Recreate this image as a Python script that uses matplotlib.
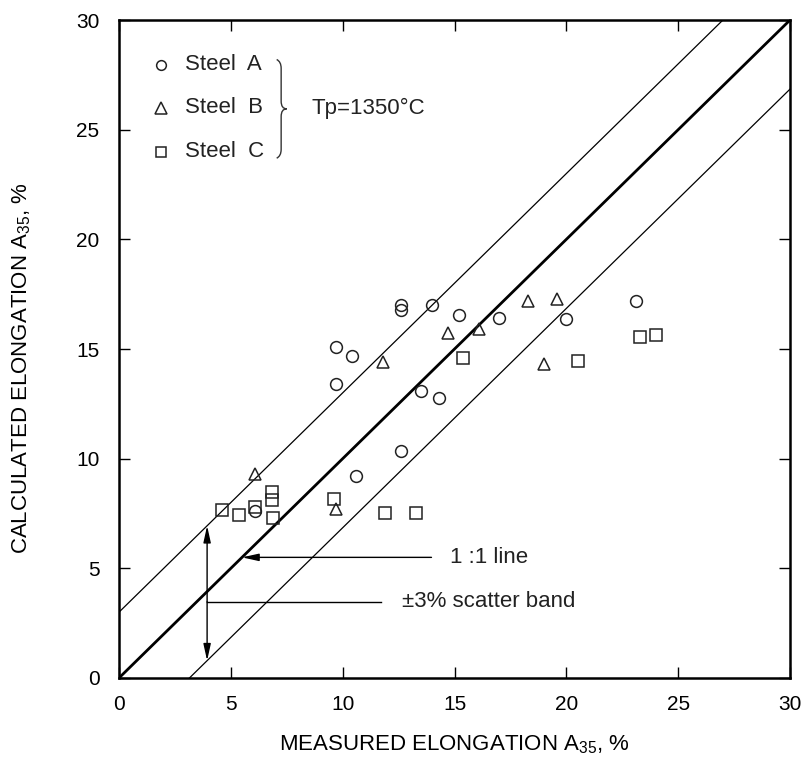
import matplotlib
matplotlib.use("Agg")
import matplotlib.pyplot as plt
from matplotlib.path import Path
from matplotlib.patches import PathPatch
import numpy as np

plt.rcParams['font.family'] = ['Liberation Sans', 'DejaVu Sans']
plt.rcParams['mathtext.fontset'] = 'custom'
plt.rcParams['mathtext.rm'] = 'Liberation Sans'
plt.rcParams['mathtext.it'] = 'Liberation Sans'

# ---- data (measured, calculated elongation A35, %) ----
steel_a_measured = [12.6, 12.6, 14.0, 15.2, 9.7, 10.4, 9.7, 13.5, 14.3, 12.6, 10.6, 6.1, 17.0, 20.0, 23.1]
steel_a_calc     = [17.0, 16.8, 17.0, 16.55, 15.1, 14.7, 13.4, 13.1, 12.75, 10.35, 9.2, 7.6, 16.4, 16.35, 17.2]

steel_b_measured = [14.7, 11.8, 6.1, 9.7, 16.1, 18.3, 19.6, 19.0]
steel_b_calc     = [15.75, 14.4, 9.3, 7.7, 15.9, 17.2, 17.3, 14.3]

steel_c_measured = [4.6, 5.35, 6.1, 6.85, 6.85, 6.9, 9.6, 11.9, 13.3, 15.4, 20.5, 23.3, 24.0]
steel_c_calc     = [7.65, 7.45, 7.8, 8.5, 8.1, 7.3, 8.15, 7.5, 7.5, 14.6, 14.45, 15.55, 15.65]

band_upper = 3.0
band_lower = -3.15
axis_limits = [0, 30]
ticks = [0, 5, 10, 15, 20, 25, 30]
series_labels = ['Steel  A', 'Steel  B', 'Steel  C']

TXT = 16
INK = '#222222'

fig = plt.figure(figsize=(8.05, 7.76), dpi=100)
ax = fig.add_axes([0.1478, 0.1263, 0.8336, 0.8479])

xx = np.array(axis_limits, dtype=float)
ax.plot(xx, xx, color='black', lw=2.0, zorder=2)
ax.plot(xx, xx + band_upper, color='black', lw=0.9, zorder=2)
ax.plot(xx, xx + band_lower, color='black', lw=0.9, zorder=2)

mk = dict(linestyle='none', markerfacecolor='none', markeredgecolor=INK,
          markeredgewidth=1.1, zorder=3)
ax.plot(steel_a_measured, steel_a_calc, marker='o', markersize=8.5, **mk)
ax.plot(steel_b_measured, steel_b_calc, marker='^', markersize=9, **mk)
ax.plot(steel_c_measured, steel_c_calc, marker='s', markersize=8, **mk)

# legend (manual)
leg_y = [27.95, 26.0, 24.0]
for m, ms, yv, lab in zip(['o', '^', 's'], [7, 8, 7], leg_y, series_labels):
    ax.plot([1.9], [yv], marker=m, markersize=ms, **mk)
    ax.text(2.95, yv, lab, fontsize=TXT, va='center', ha='left', color=INK)

# brace
bx, btip = 7.25, 7.5
verts = [(7.05, 28.2), (bx, 28.1), (bx, 27.8),
         (bx, 26.3),
         (bx, 25.95), (btip, 25.95),
         (bx, 25.95), (bx, 25.6),
         (bx, 24.1),
         (bx, 23.8), (7.05, 23.7)]
codes = [Path.MOVETO, Path.CURVE3, Path.CURVE3,
         Path.LINETO,
         Path.CURVE3, Path.CURVE3,
         Path.CURVE3, Path.CURVE3,
         Path.LINETO,
         Path.CURVE3, Path.CURVE3]
ax.add_patch(PathPatch(Path(verts, codes), facecolor='none', edgecolor='#333333', lw=1.0))
ax.text(8.6, 25.96, 'Tp=1350°C', fontsize=TXT, va='center', ha='left', color=INK)

# scatter-band annotations
head = '-|>,head_length=1.0,head_width=0.22'
ax.annotate('', xy=(3.94, 3.94 + band_upper), xytext=(3.94, 3.47),
            arrowprops=dict(arrowstyle=head, color='black', lw=1.0, shrinkA=0, shrinkB=0))
ax.annotate('', xy=(3.94, 3.94 + band_lower), xytext=(3.94, 3.47),
            arrowprops=dict(arrowstyle=head, color='black', lw=1.0, shrinkA=0, shrinkB=0))
ax.plot([3.94, 11.7], [3.47, 3.47], color='black', lw=1.0)
ax.annotate('', xy=(5.5, 5.5), xytext=(13.97, 5.5),
            arrowprops=dict(arrowstyle=head, color='black', lw=1.0, shrinkA=0, shrinkB=0))
ax.text(14.8, 5.5, '1 :1 line', fontsize=TXT, va='center', ha='left', color=INK)
ax.text(12.65, 3.47, '±3% scatter band', fontsize=TXT, va='center', ha='left', color=INK)

ax.set_xlim(axis_limits)
ax.set_ylim(axis_limits)
ax.set_xticks(ticks)
ax.set_yticks(ticks)
ax.tick_params(direction='in', length=8, width=1.0, top=True, right=True,
               labelsize=15, colors='black')
ax.tick_params(axis='y', pad=14)
ax.tick_params(axis='x', pad=12)
for s in ax.spines.values():
    s.set_linewidth(1.8)

ax.set_xlabel('MEASURED ELONGATION A$_{35}$, %', fontsize=TXT, va='center')
ax.set_ylabel('CALCULATED ELONGATION A$_{35}$, %', fontsize=TXT, va='center')
ax.xaxis.set_label_coords(0.5, -0.102)
ax.yaxis.set_label_coords(-0.145, 0.471)

fig.savefig('out.png', dpi=100)
